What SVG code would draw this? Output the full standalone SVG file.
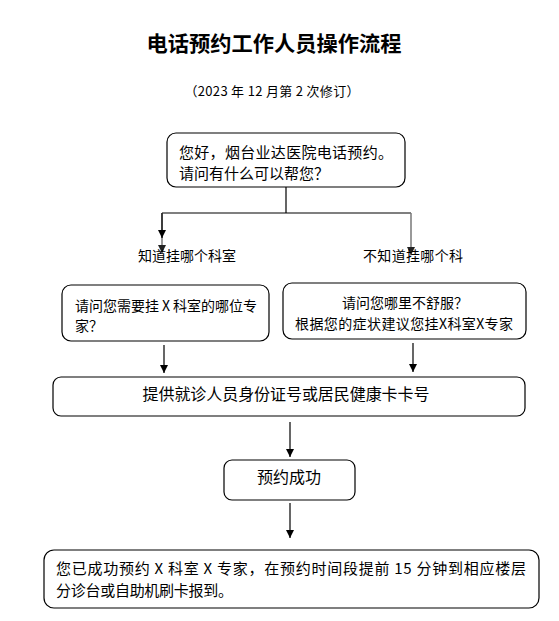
<svg xmlns="http://www.w3.org/2000/svg" width="559" height="621" viewBox="0 0 559 621">
<defs>
<marker id="ah" markerWidth="8" markerHeight="8" refX="8" refY="4" orient="auto" markerUnits="userSpaceOnUse"><path d="M0,0 L8,4 L0,8 z" fill="#000"/></marker>
<marker id="ahg" markerWidth="8" markerHeight="8" refX="8" refY="4" orient="auto" markerUnits="userSpaceOnUse"><path d="M0,0 L8,4 L0,8 z" fill="#222"/></marker>
</defs>
<style>
.t{font-family:"Noto Sans CJK SC","Noto Sans",sans-serif;fill:#000}
.box{fill:#fff;stroke:#000;stroke-width:1.2}
.ln{fill:none;stroke:#000;stroke-width:1.2}
.lg{fill:none;stroke:#777;stroke-width:1.5}
</style>
<rect width="559" height="621" fill="#fff"/>
<text class="t" x="274" y="51" font-size="21" font-weight="bold" text-anchor="middle" textLength="255" lengthAdjust="spacingAndGlyphs">电话预约工作人员操作流程</text>
<text class="t" x="272" y="96" font-size="13" text-anchor="middle" textLength="175" lengthAdjust="spacing">（2023 年 12 月第 2 次修订）</text>

<g id="connectors">
<path class="ln" d="M286,187 V213 M162,213 H411"/>
<path class="lg" d="M162,213 V253" marker-end="url(#ahg)"/>
<path class="ln" d="M162,213 V238" marker-end="url(#ah)"/>
<path class="lg" d="M411,213 V255" marker-end="url(#ahg)"/>
<path class="ln" d="M164,345 V373" marker-end="url(#ah)"/>
<path class="ln" d="M413,343 V372" marker-end="url(#ah)"/>
<path class="ln" d="M290,422 V457" marker-end="url(#ah)"/>
<path class="ln" d="M290,503 V538" marker-end="url(#ah)"/>
</g>

<g id="greeting">
<rect class="box" x="167" y="133" width="238" height="54" rx="9"/>
<text class="t" x="179" y="158" font-size="15" textLength="214" lengthAdjust="spacing">您好，烟台业达医院电话预约。</text>
<text class="t" x="179" y="179" font-size="15">请问有什么可以帮您？</text>
</g>

<g id="label-know">
<text class="t" x="138" y="261" font-size="14" textLength="98" lengthAdjust="spacing">知道挂哪个科室</text>
</g>
<g id="label-unknown">
<text class="t" x="363" y="261" font-size="14" textLength="100" lengthAdjust="spacing">不知道挂哪个科</text>
</g>

<g id="ask-expert">
<rect class="box" x="62" y="285" width="207" height="56" rx="9"/>
<text class="t" x="75" y="311" font-size="14" textLength="182" lengthAdjust="spacing">请问您需要挂 X 科室的哪位专</text>
<text class="t" x="75" y="331" font-size="14">家？</text>
</g>

<g id="ask-symptom">
<rect class="box" x="283" y="283" width="243" height="56" rx="9"/>
<text class="t" x="405" y="308" font-size="14" text-anchor="middle">请问您哪里不舒服？</text>
<text class="t" x="404" y="329" font-size="14" text-anchor="middle" textLength="218" lengthAdjust="spacing">根据您的症状建议您挂X科室X专家</text>
</g>

<g id="provide-id">
<rect class="box" x="53" y="377" width="472" height="39" rx="8"/>
<text class="t" x="286" y="400" font-size="16" text-anchor="middle" textLength="287" lengthAdjust="spacing">提供就诊人员身份证号或居民健康卡卡号</text>
</g>

<g id="success">
<rect class="box" x="224" y="460" width="131" height="40" rx="8"/>
<text class="t" x="289" y="483" font-size="16" text-anchor="middle">预约成功</text>
</g>

<g id="confirm">
<rect class="box" x="44" y="550" width="495" height="58" rx="10"/>
<text class="t" x="56" y="574" font-size="15" textLength="470" lengthAdjust="spacing">您已成功预约 X 科室 X 专家，在预约时间段提前 15 分钟到相应楼层</text>
<text class="t" x="56" y="596" font-size="15" textLength="177" lengthAdjust="spacing">分诊台或自助机刷卡报到。</text>
</g>
</svg>
